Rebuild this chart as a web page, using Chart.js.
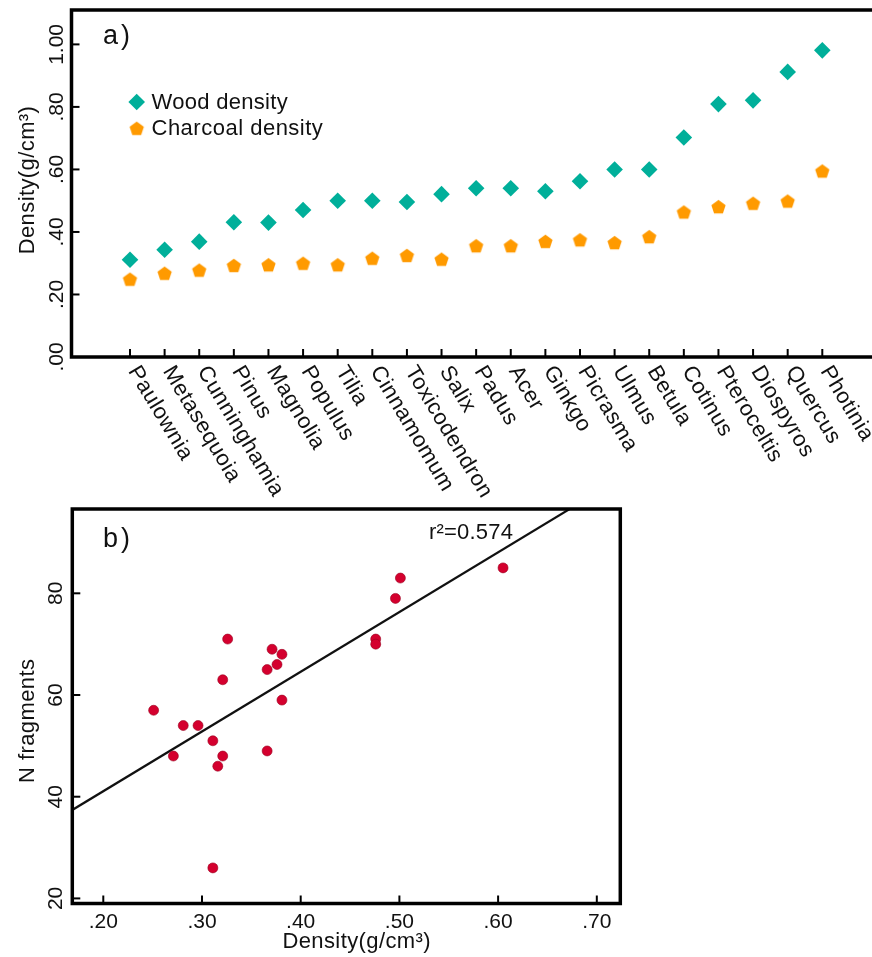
<!DOCTYPE html>
<html>
<head>
<meta charset="utf-8">
<title>Wood and charcoal density</title>
<script src="https://cdn.jsdelivr.net/npm/chart.js@4.4.0/dist/chart.umd.min.js"></script>
<style>
  html, body { margin: 0; padding: 0; background: #fff; overflow: hidden; }
  #panelA { position: absolute; left: 0; top: 0; }
  #panelB { position: absolute; left: 0; top: 500px; }
</style>
</head>
<body>
<canvas id="panelA" width="900" height="505"></canvas>
<canvas id="panelB" width="872" height="457"></canvas>
<script>
// a) densidad por especie
const SPECIES = ['Paulownia', 'Metasequoia', 'Cunninghamia', 'Pinus', 'Magnolia', 'Populus', 'Tilia',
  'Cinnamomum', 'Toxicodendron', 'Salix', 'Padus', 'Acer', 'Ginkgo', 'Picrasma', 'Ulmus', 'Betula',
  'Cotinus', 'Pteroceltis', 'Diospyros', 'Quercus', 'Photinia'];
const WOOD_DENSITY = [0.311, 0.343, 0.369, 0.431, 0.430, 0.470, 0.500, 0.500, 0.496, 0.521, 0.540,
  0.540, 0.530, 0.562, 0.600, 0.600, 0.702, 0.809, 0.821, 0.912, 0.981];
const CHARCOAL_DENSITY = [0.249, 0.268, 0.278, 0.293, 0.295, 0.300, 0.295, 0.316, 0.325, 0.313, 0.356,
  0.356, 0.370, 0.375, 0.366, 0.385, 0.464, 0.481, 0.492, 0.499, 0.595];
const A_Y_TICKS = [0, 0.2, 0.4, 0.6, 0.8, 1.0];
const A_Y_LABELS = ['.00', '.20', '.40', '.60', '.80', '1.00'];

// b) fragmentos frente a densidad del carbón
const FRAG_DENSITY = [0.251, 0.271, 0.281, 0.296, 0.311, 0.311, 0.316, 0.321, 0.321, 0.326, 0.366,
  0.366, 0.371, 0.376, 0.381, 0.381, 0.476, 0.476, 0.496, 0.501, 0.605];
const FRAG_COUNT = [57, 48, 54, 54, 51, 26, 46, 48, 63, 71, 65, 49, 69, 66, 68, 59, 71, 70, 79, 83, 85];
const FIT_X = [0.1686, 0.7238];
const FIT_Y = [37.4, 102.6];
const B_X_TICKS = [0.2, 0.3, 0.4, 0.5, 0.6, 0.7];
const B_X_LABELS = ['.20', '.30', '.40', '.50', '.60', '.70'];
const B_Y_TICKS = [20, 40, 60, 80];
const B_Y_LABELS = ['20', '40', '60', '80'];

const FONT_FAMILY = "'Liberation Sans', Arial, sans-serif";
const TEAL = '#00AF9A';
const ORANGE = '#FF9A00';
const RED = '#D4002E';
const INK = '#111';

// pentágono para el carbón
function hacerPentagono(R, color) {
  const c = document.createElement('canvas');
  const s = Math.ceil(R * 2 + 4);
  c.width = s; c.height = s;
  const g = c.getContext('2d');
  const cx = s / 2, cy = s / 2 + R * (1 - Math.cos(Math.PI / 5)) / 2;
  g.beginPath();
  for (let k = 0; k < 5; k++) {
    const ang = -Math.PI / 2 + k * 2 * Math.PI / 5;
    const px = cx + R * Math.cos(ang), py = cy + R * Math.sin(ang);
    k === 0 ? g.moveTo(px, py) : g.lineTo(px, py);
  }
  g.closePath();
  g.fillStyle = color;
  g.fill();
  return c;
}
const PENTAGON = hacerPentagono(7.5, ORANGE);

function texto(ctx, s, x, y, o = {}) {
  ctx.save();
  ctx.translate(x, y);
  if (o.rot) ctx.rotate(o.rot);
  ctx.font = (o.size || 22) + 'px ' + FONT_FAMILY;
  ctx.letterSpacing = (o.ls === undefined ? 0.4 : o.ls) + 'px';
  ctx.textAlign = o.align || 'left';
  ctx.textBaseline = o.base || 'alphabetic';
  ctx.fillStyle = INK;
  ctx.fillText(s, 0, 0);
  ctx.restore();
}

function marco(ctx, area) {
  ctx.save();
  ctx.strokeStyle = '#000';
  ctx.lineWidth = 3.5;
  ctx.strokeRect(area.left, area.top, area.right - area.left, area.bottom - area.top);
  ctx.restore();
}

function tic(ctx, x1, y1, x2, y2) {
  ctx.save();
  ctx.strokeStyle = '#000';
  ctx.lineWidth = 2;
  ctx.beginPath();
  ctx.moveTo(x1, y1);
  ctx.lineTo(x2, y2);
  ctx.stroke();
  ctx.restore();
}

const ejesA = {
  id: 'ejesA',
  afterDraw(chart) {
    const ctx = chart.ctx, area = chart.chartArea;
    const sx = chart.scales.x, sy = chart.scales.y;
    marco(ctx, area);
    SPECIES.forEach((nombre, i) => {
      const px = sx.getPixelForValue(i);
      tic(ctx, px, area.bottom, px, area.bottom - 8);
      texto(ctx, nombre, px + 3, area.bottom + 11, { rot: 59 * Math.PI / 180, base: 'middle', ls: 0.5 });
    });
    A_Y_TICKS.forEach((v, i) => {
      const py = sy.getPixelForValue(v);
      tic(ctx, area.left, py, area.left + 8, py);
      texto(ctx, A_Y_LABELS[i], 62.5, py, { rot: -Math.PI / 2, align: 'center', size: 21, ls: 0 });
    });
    texto(ctx, 'Density(g/cm³)', 33.5, 180, { rot: -Math.PI / 2, align: 'center' });
    texto(ctx, 'a)', 103, 44, { size: 27, ls: 3 });

    // leyenda
    ctx.save();
    ctx.fillStyle = TEAL;
    ctx.beginPath();
    ctx.moveTo(136.7, 102 - 8.3);
    ctx.lineTo(136.7 + 8.3, 102);
    ctx.lineTo(136.7, 102 + 8.3);
    ctx.lineTo(136.7 - 8.3, 102);
    ctx.closePath();
    ctx.fill();
    ctx.drawImage(PENTAGON, 136.7 - PENTAGON.width / 2, 128.3 - PENTAGON.height / 2);
    ctx.restore();
    texto(ctx, 'Wood density', 151.5, 108.5, { ls: 0.3 });
    texto(ctx, 'Charcoal density', 151.5, 135, { ls: 0.5 });
  }
};

const ejesB = {
  id: 'ejesB',
  afterDraw(chart) {
    const ctx = chart.ctx, area = chart.chartArea;
    const sx = chart.scales.x, sy = chart.scales.y;
    marco(ctx, area);
    B_X_TICKS.forEach((v, i) => {
      const px = sx.getPixelForValue(v);
      tic(ctx, px, area.bottom, px, area.bottom - 8);
      texto(ctx, B_X_LABELS[i], px, 428, { align: 'center', size: 21, ls: 0 });
    });
    B_Y_TICKS.forEach((v, i) => {
      const py = sy.getPixelForValue(v);
      tic(ctx, area.left, py, area.left + 8, py);
      texto(ctx, B_Y_LABELS[i], 61.7, py, { rot: -Math.PI / 2, align: 'center', size: 21, ls: 0 });
    });
    texto(ctx, 'N fragments', 33.5, 220.8, { rot: -Math.PI / 2, align: 'center' });
    texto(ctx, 'Density(g/cm³)', 356.7, 448, { align: 'center' });
    texto(ctx, 'b)', 103, 46.7, { size: 27, ls: 3 });
    texto(ctx, 'r²=0.574', 429, 39, { ls: 0.2 });
  }
};

new Chart(document.getElementById('panelA'), {
  type: 'scatter',
  data: {
    datasets: [
      {
        label: 'Wood density',
        data: WOOD_DENSITY.map((v, i) => ({ x: i, y: v })),
        pointStyle: 'rectRot',
        pointRadius: 8.3,
        pointBorderWidth: 0,
        backgroundColor: TEAL,
        borderColor: TEAL
      },
      {
        label: 'Charcoal density',
        data: CHARCOAL_DENSITY.map((v, i) => ({ x: i, y: v })),
        pointStyle: PENTAGON,
        pointRadius: 7.5,
        backgroundColor: ORANGE,
        borderColor: ORANGE
      }
    ]
  },
  options: {
    responsive: false,
    animation: false,
    events: [],
    layout: { padding: { left: 71.5, top: 10, right: 20, bottom: 148 } },
    plugins: { legend: { display: false }, tooltip: { enabled: false } },
    scales: {
      x: { type: 'linear', min: -1.69, max: 21.667, display: false },
      y: { type: 'linear', min: 0, max: 1.11, display: false }
    }
  },
  plugins: [ejesA]
});

new Chart(document.getElementById('panelB'), {
  type: 'scatter',
  data: {
    datasets: [
      {
        label: 'N fragments',
        data: FRAG_DENSITY.map((v, i) => ({ x: v, y: FRAG_COUNT[i] })),
        pointStyle: 'circle',
        pointRadius: 5,
        pointBorderWidth: 0.6,
        backgroundColor: RED,
        borderColor: '#9a0020',
        order: 0
      },
      {
        label: 'Fit',
        data: FIT_X.map((v, i) => ({ x: v, y: FIT_Y[i] })),
        showLine: true,
        pointRadius: 0,
        borderColor: '#111',
        borderWidth: 2.2,
        order: 1
      }
    ]
  },
  options: {
    responsive: false,
    animation: false,
    events: [],
    layout: { padding: { left: 72.3, top: 9, right: 251.7, bottom: 53.5 } },
    plugins: { legend: { display: false }, tooltip: { enabled: false } },
    scales: {
      x: { type: 'linear', min: 0.1686, max: 0.7238, display: false },
      y: { type: 'linear', min: 19.0, max: 96.58, display: false }
    }
  },
  plugins: [ejesB]
});
</script>
</body>
</html>
